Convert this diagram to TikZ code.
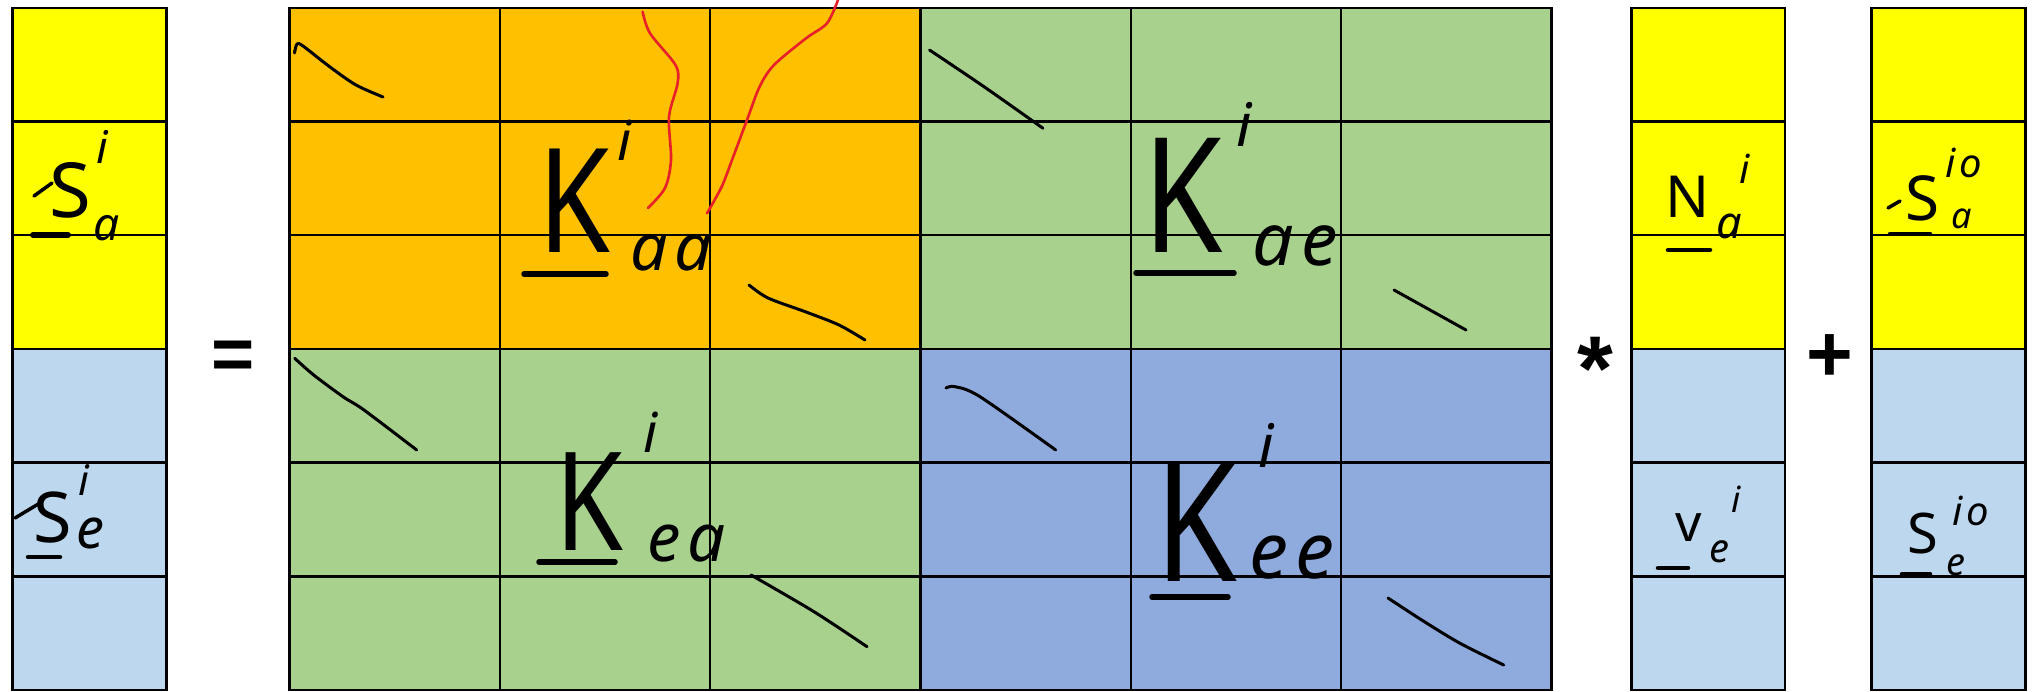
\documentclass[tikz,border=0pt]{standalone}
\usepackage{fontspec}
\newfontfamily\hwK{Noto Sans}[FakeStretch=0.8]
\newfontfamily\hwR{Noto Sans}
\newfontfamily\hwI{Noto Sans}[LetterSpace=10]
\newfontfamily\opf{Liberation Sans}
\newcommand\fsz[1]{\fontsize{#1}{#1}\selectfont}
\definecolor{cyel}{HTML}{FFFF00}
\definecolor{corg}{HTML}{FFC000}
\definecolor{cgrn}{HTML}{A9D18E}
\definecolor{cblu}{HTML}{8FAADC}
\definecolor{clbl}{HTML}{BDD7EE}
\definecolor{cred}{HTML}{E8202A}
\tikzset{
  bigK/.style={inner sep=0pt, anchor=base, font={\hwK\fsz{#1}}},
  lett/.style={inner sep=0pt, anchor=base, font={\hwR\fsz{#1}}},
  idx/.style={inner sep=0pt, anchor=base, font={\hwI\itshape\fsz{#1}}},
  op/.style={inner sep=0pt, anchor=base, font={\opf\bfseries\fsz{#1}}},
  ul/.style={line width=#1, line cap=round},
  ul/.default=5.5pt,
  hw/.style={line width=3pt, line cap=round, line join=round},
  redhw/.style={line width=2.6pt, line cap=round, line join=round, draw=cred},
  gl/.style={line width=2.4pt, line cap=rect}
}
\begin{document}
\begin{tikzpicture}[x=1pt,y=-1pt]
\useasboundingbox (0,0) rectangle (2038,691);
\def\rowlist{7.8,121.5,235.2,348.9,462.6,576.3,690}
% ---- fills
\fill[cyel] (12.5,7.8) rectangle (166.5,348.9);
\fill[clbl] (12.5,348.9) rectangle (166.5,690);
\fill[corg] (289.5,7.8) rectangle (920.5,348.9);
\fill[cgrn] (920.5,7.8) rectangle (1551.5,348.9);
\fill[cgrn] (289.5,348.9) rectangle (920.5,690);
\fill[cblu] (920.5,348.9) rectangle (1551.5,690);
\fill[cyel] (1631.5,7.8) rectangle (1785,348.9);
\fill[clbl] (1631.5,348.9) rectangle (1785,690);
\fill[cyel] (1871.5,7.8) rectangle (2025.5,348.9);
\fill[clbl] (1871.5,348.9) rectangle (2025.5,690);
% ---- grid lines
\foreach \y in \rowlist {
  \draw[gl] (12.5,\y) -- (166.5,\y);
  \draw[gl] (289.5,\y) -- (1551.5,\y);
  \draw[gl] (1631.5,\y) -- (1785,\y);
  \draw[gl] (1871.5,\y) -- (2025.5,\y);
}
\foreach \x in {289.5,499.8,710.2,920.5,1130.8,1341.2,1551.5}
  \draw[gl] (\x,7.8) -- (\x,690);
\foreach \x in {12.5,166.5,1631.5,1785,1871.5,2025.5}
  \draw[gl] (\x,7.8) -- (\x,690);
% ---- diagonal marks
\draw[hw] plot[smooth] coordinates {(294.5,53) (297,44) (303,46) (330,67) (356,85) (383,97)};
\draw[hw] plot[smooth] coordinates {(749,285) (768,298) (806,312) (839,325) (865,340)};
\draw[hw] plot[smooth] coordinates {(929.5,50) (984,86.7) (1043,128.3)};
\draw[hw] plot[smooth] coordinates {(1394,290) (1430,310) (1466,330)};
\draw[hw] plot[smooth] coordinates {(294.7,358.3) (313.7,375) (343,396.7) (364,410) (416.7,450)};
\draw[hw] plot[smooth] coordinates {(751,575) (814,611.7) (867,646.7)};
\draw[hw] plot[smooth] coordinates {(946,388) (955,386.7) (980,396.7) (1055.7,450)};
\draw[hw] plot[smooth] coordinates {(1388,598) (1421.7,620) (1459.5,643) (1503.7,665)};
% ---- red marks
\draw[redhw] plot[smooth] coordinates {(642.6,11.7) (650,33.3) (675.5,65) (677.6,83.3) (669,116.7) (671,160) (665,188) (648,208)};
\draw[redhw] plot[smooth] coordinates {(838,0) (827,23.3) (806,38.3) (774,65) (759.6,86.7) (747,120) (732,160) (721.7,186.7) (707,213.3)};
% ---- matrix labels
\node[bigK=145] (Kaa) at (574,252) {K};
\node[idx=55] (Kaa-i) at (625,160) {i};
\node[idx=66] (Kaa-s) at (671,270) {aa};
\draw[ul] (524,274) -- (606,274);
\node[bigK=160] (Kae) at (1183,252) {K};
\node[idx=60] (Kae-i) at (1244,146) {i};
\node[idx=73] (Kae-s) at (1295,265) {ae};
\draw[ul] (1136,273) -- (1234,273);
\node[bigK=137] (Kea) at (589,550) {K};
\node[idx=55] (Kea-i) at (651,452) {i};
\node[idx=67] (Kea-s) at (687,561) {ea};
\draw[ul] (539,562) -- (615,562);
\node[bigK=165] (Kee) at (1196,581) {K};
\node[idx=60] (Kee-i) at (1266,467) {i};
\node[idx=78] (Kee-s) at (1292,578) {ee};
\draw[ul] (1152,597) -- (1228,597);
% ---- vector labels
\node[lett=76] (Sa) at (70,217) {S};
\node[idx=45] (Sa-i) at (102,163) {i};
\node[idx=46] (Sa-s) at (107,240) {a};
\draw[ul=6pt] (33,235) -- (68,235);
\draw[hw, line width=3.5pt] (34,196) -- (52,183);
\node[lett=70] (Se) at (53,542) {S};
\node[idx=42] (Se-i) at (84,495) {i};
\node[idx=56] (Se-s) at (90,548) {e};
\draw[ul=4.5pt] (28,557) -- (60,557);
\draw[hw, line width=3.5pt] (15,518) -- (40,503);
\node[lett=58] (Na) at (1688,217) {N};
\node[idx=45] (Na-s) at (1729,238) {a};
\node[idx=40] (Na-i) at (1745,183) {i};
\draw[ul=4.5pt] (1668,250) -- (1710,250);
\node[lett=52] (ve) at (1689,541) {v};
\node[idx=40] (ve-s) at (1719,562) {e};
\node[idx=36] (ve-i) at (1736,512) {i};
\draw[ul=4.5pt] (1658,568) -- (1688,568);
\node[lett=62] (S0a) at (1922,220) {S};
\node[idx=40] (S0a-i) at (1964,177) {io};
\node[idx=36] (S0a-s) at (1962,228) {a};
\draw[ul=4.5pt] (1890,234) -- (1930,234);
\draw[hw, line width=3.5pt] (1888,208) -- (1900,201);
\node[lett=56] (S0e) at (1923,553) {S};
\node[idx=40] (S0e-i) at (1971,525) {io};
\node[idx=38] (S0e-s) at (1956,575) {e};
\draw[ul=4.5pt] (1902,574) -- (1930,574);
% ---- operators
\node[op=74] (eq) at (233.5,379) {=};
\node[op=92] (ast) at (1595,400) {*};
\node[op=80] (plus) at (1830,381) {+};
\end{tikzpicture}
\end{document}
